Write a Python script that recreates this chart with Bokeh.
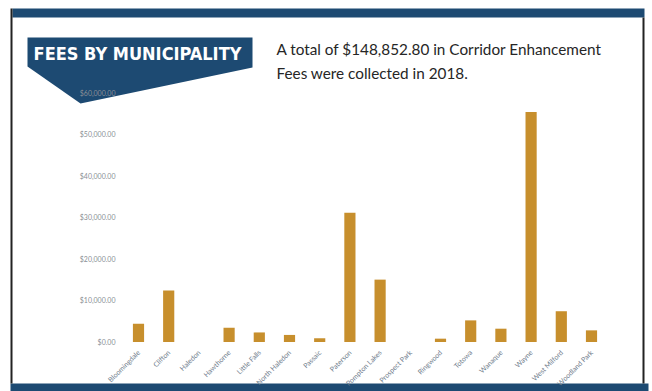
import math
from bokeh.plotting import figure
from bokeh.models import (Range1d, NumeralTickFormatter, FixedTicker, LinearAxis)
from bokeh.core.properties import value
from bokeh.embed import file_html
from bokeh.resources import INLINE

municipalities = ["Bloomingdale", "Clifton", "Haledon", "Hawthorne", "Little Falls",
                  "North Haledon", "Passaic", "Paterson", "Pompton Lakes", "Prospect Park",
                  "Ringwood", "Totowa", "Wanaque", "Wayne", "West Milford", "Woodland Park"]
fees = [4400, 12400, 0, 3400, 2300, 1700, 900, 31100, 15000, 0,
        800, 5200, 3200, 55300, 7400, 2800]
y_ticks = [0, 10000, 20000, 30000, 40000, 50000, 60000]
title_text = "FEES BY MUNICIPALITY"
subtitle_lines = ["A total of $148,852.80 in Corridor Enhancement",
                  "Fees were collected in 2018."]

W, H = 652, 391
NAVY = "#1d4a72"
BAR = "#c78f2d"

# layout (pixel) constants for the chart area
X_FIRST, X_STEP = 138.0, 30.2          # pixel centre of first bar, spacing
Y_ZERO, Y_TOP = 341.5, 92.0            # pixel of 0 and of top tick
y_max = y_ticks[-1]
span = y_max * H / (Y_ZERO - Y_TOP)
y_start = -(H - Y_ZERO) / H * span
x_start = -X_FIRST / X_STEP

p = figure(width=W, height=H, x_range=Range1d(0, W), y_range=Range1d(H, 0),
           x_axis_location=None, y_axis_location=None,
           output_backend="svg", toolbar_location=None,
           min_border=0, background_fill_color="white", border_fill_color="white")
p.outline_line_color = None
p.grid.visible = False
p.extra_x_ranges = {"cat": Range1d(x_start, x_start + W / X_STEP)}
p.extra_y_ranges = {"fee": Range1d(y_start, y_start + span)}

# frame decorations (pixel coordinates)
p.quad(left=[12, 10, 10, 642], right=[644, 648, 12, 644], top=[8, 383, 8, 17],
       bottom=[17, 391, 383, 383], fill_color=[NAVY, NAVY, "#222222", "#222222"],
       line_color=None)
p.patch(x=[27, 252, 252, 80, 27], y=[37, 37, 67, 103, 66], fill_color=NAVY, line_color=None)
p.text(x=[137], y=[53], text=[title_text], text_font=value("DejaVu Sans Condensed"),
       text_font_style="bold", text_font_size="18px", text_color="white",
       text_align="center", text_baseline="middle")
p.text(x=[276, 276], y=[48, 72], text=subtitle_lines, text_font=value("Lato"),
       text_font_size="15.3px", text_color="#262626", text_align="left",
       text_baseline="middle")

xs = list(range(len(municipalities)))
p.vbar(x=xs, top=fees, width=0.37, fill_color=BAR, line_color=None,
       x_range_name="cat", y_range_name="fee")

yaxis = LinearAxis(y_range_name="fee", fixed_location=123,
                   ticker=FixedTicker(ticks=y_ticks),
                   formatter=NumeralTickFormatter(format="$0,0.00"))
yaxis.axis_line_color = None
yaxis.major_tick_line_color = None
yaxis.major_tick_out = 0
yaxis.minor_tick_line_color = None
yaxis.major_label_text_font_size = "7px"
yaxis.major_label_text_color = "#8a8f96"
yaxis.major_label_text_font = "Lato"
yaxis.major_label_standoff = 8
p.add_layout(yaxis, "left")

xaxis = LinearAxis(x_range_name="cat", fixed_location=Y_ZERO,
                   ticker=FixedTicker(ticks=xs),
                   major_label_overrides={i: m for i, m in enumerate(municipalities)})
xaxis.axis_line_color = None
xaxis.major_tick_line_color = None
xaxis.major_tick_out = 0
xaxis.minor_tick_line_color = None
xaxis.major_label_orientation = math.pi / 4
xaxis.major_label_text_font_size = "7px"
xaxis.major_label_text_color = "#6f7d8c"
xaxis.major_label_text_font = "Lato"
xaxis.major_label_standoff = 9
p.add_layout(xaxis, "below")

open("out.html", "w").write(file_html(p, INLINE))
